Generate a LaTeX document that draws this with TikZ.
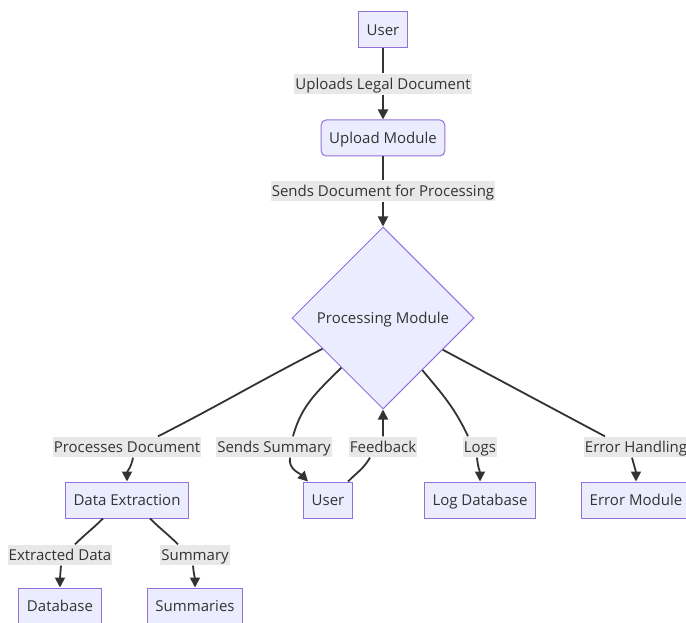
\documentclass[tikz,border=0pt]{standalone}
\usepackage{fontspec}
\setmainfont{Open Sans}
\usetikzlibrary{shapes.geometric,arrows.meta}

\definecolor{boxfill}{HTML}{ECECFF}
\definecolor{boxline}{HTML}{9370DB}
\definecolor{ink}{HTML}{333333}
\definecolor{lblfill}{HTML}{E8E8E8}

\begin{document}
\begin{tikzpicture}[
    x=1pt, y=1pt,
    every node/.style={font=\fontsize{15}{18}\selectfont, text=ink},
    box/.style={rectangle, draw=boxline, fill=boxfill, line width=1pt, minimum height=36pt, inner xsep=8pt, text height=12pt, text depth=1.5pt},
    decision/.style={diamond, aspect=1, draw=boxline, fill=boxfill, line width=1pt, minimum size=182pt, inner sep=0pt, text height=12pt, text depth=1.5pt},
    lbl/.style={fill=lblfill, inner xsep=1pt, inner ysep=4.2pt, text height=11.5pt, text depth=1pt},
    edge/.style={draw=ink, line width=1.8pt, -{Triangle[length=10pt,width=10pt]}}
]
    \useasboundingbox (0,0) rectangle (686,-623);

    % top chain
    \node[box] (user) at (383,-30) {User};
    \node[lbl] (l1) at (383,-84) {Uploads Legal Document};
    \node[box, rounded corners=5pt] (upload) at (383,-138) {Upload Module};
    \node[lbl] (l2) at (383,-191) {Sends Document for Processing};
    \node[decision] (proc) at (383,-318) {Processing Module};

    % second row
    \node[lbl] (lpd) at (127,-447) {Processes Document};
    \node[lbl] (lss) at (274,-447) {Sends Summary};
    \node[lbl] (lfb) at (383,-447) {Feedback};
    \node[lbl] (llog) at (480,-447) {Logs};
    \node[lbl] (lerr) at (636,-447) {Error Handling};

    \node[box] (extract) at (127,-500) {Data Extraction};
    \node[box] (user2) at (328,-500) {User};
    \node[box] (logdb) at (480,-500) {Log Database};
    \node[box] (errmod) at (636,-500) {Error Module};

    % third row
    \node[lbl] (lex) at (60,-555) {Extracted Data};
    \node[lbl] (lsu) at (195,-555) {Summary};

    \node[box] (db) at (60,-606) {Database};
    \node[box] (summ) at (195,-606) {Summaries};

    \draw[edge] (user) -- (l1) -- (upload);
    \draw[edge] (upload) -- (l2) -- (proc);

    \draw[edge] (proc.-153) to[out=-153,in=27] ([xshift=31pt]lpd.north)
        ([xshift=6pt]lpd.south) to[out=-100,in=90] (extract.north);
    \draw[edge] (proc.-130) to[out=-135,in=75] ([xshift=19pt]lss.north)
        ([xshift=16pt]lss.south) to[out=-100,in=135] ([xshift=-20pt]user2.north);
    \draw[edge] ([xshift=20pt]user2.north) to[out=45,in=-120] ([xshift=-13pt]lfb.south)
        (lfb.north) -- (proc.south);
    \draw[edge] (proc.-53) to[out=-50,in=115] ([xshift=-12pt]llog.north)
        ([xshift=-3pt]llog.south) to[out=-85,in=90] (logdb.north);
    \draw[edge] (proc.-28) to[out=-28,in=152] ([xshift=-31pt]lerr.north)
        ([xshift=-4pt]lerr.south) to[out=-75,in=90] (errmod.north);

    \draw[edge] ([xshift=-24pt]extract.south) to[out=-135,in=45] ([xshift=15pt]lex.north)
        ([xshift=1pt]lex.south) to[out=-95,in=90] (db.north);
    \draw[edge] ([xshift=23pt]extract.south) to[out=-45,in=135] ([xshift=-17pt]lsu.north)
        ([xshift=-2pt]lsu.south) to[out=-85,in=90] (summ.north);

\end{tikzpicture}
\end{document}
